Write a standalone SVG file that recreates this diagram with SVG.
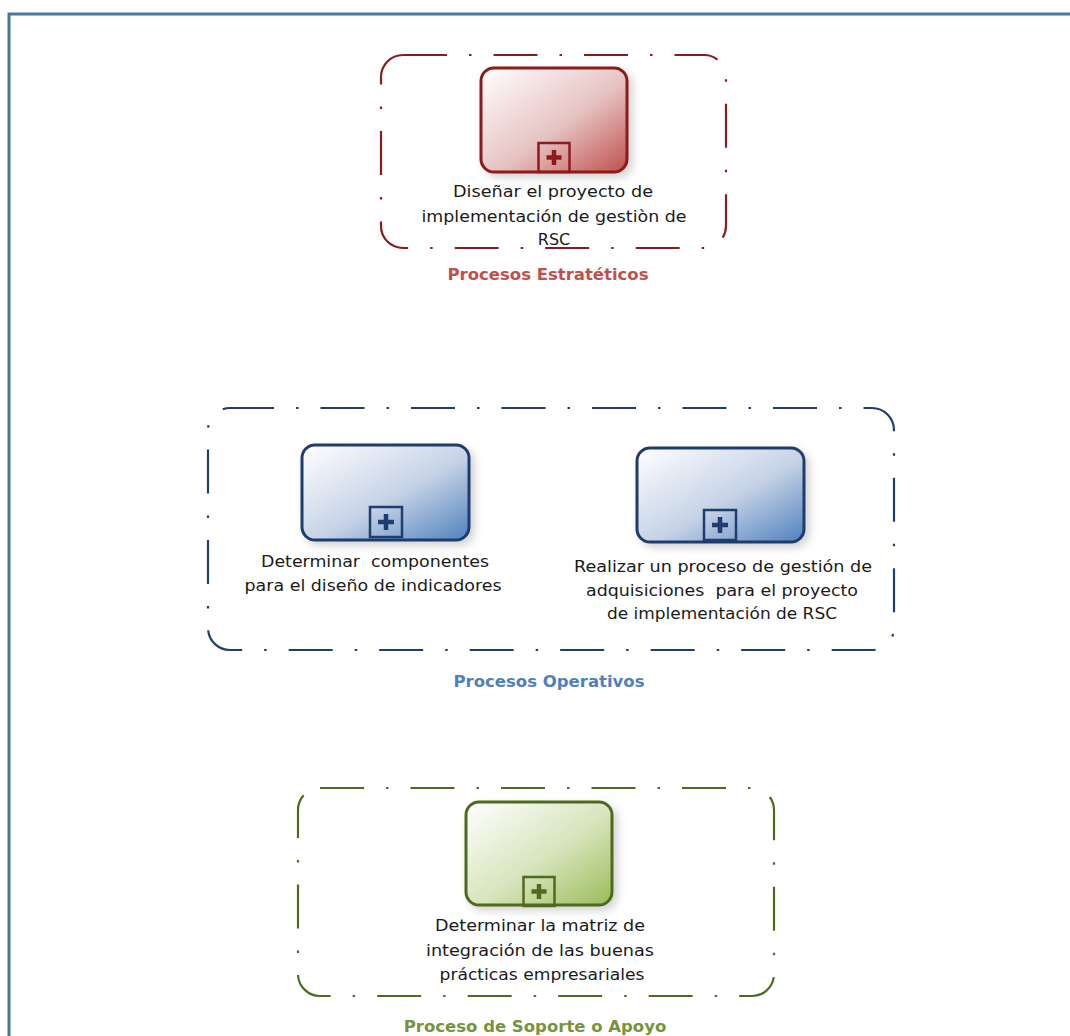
<svg xmlns="http://www.w3.org/2000/svg" width="1070" height="1036" viewBox="0 0 1070 1036">
  <style>
    .lane { fill: none; stroke-width: 2.2; stroke-dasharray: 44 22 2.5 22; stroke-linecap: butt; }
    .task { stroke-width: 3; }
    .mark { fill: none; stroke-width: 2.5; }
    .txt { font-family: "DejaVu Sans", "Liberation Sans", sans-serif; font-size: 16px; fill: #1a1a1a; text-anchor: middle; white-space: pre; }
    .lbl { font-family: "DejaVu Sans", "Liberation Sans", sans-serif; font-size: 16.5px; font-weight: bold; text-anchor: middle; }
  </style>
  <defs>
    <linearGradient id="gRed" x1="0" y1="0" x2="1" y2="1">
      <stop offset="0" stop-color="#ffffff"/>
      <stop offset="0.55" stop-color="#e6c3c2"/>
      <stop offset="1" stop-color="#c0504d"/>
    </linearGradient>
    <linearGradient id="gBlue" x1="0" y1="0" x2="1" y2="1">
      <stop offset="0" stop-color="#ffffff"/>
      <stop offset="0.55" stop-color="#c5d2e6"/>
      <stop offset="1" stop-color="#4f81bd"/>
    </linearGradient>
    <linearGradient id="gGreen" x1="0" y1="0" x2="1" y2="1">
      <stop offset="0" stop-color="#ffffff"/>
      <stop offset="0.55" stop-color="#d6e4bb"/>
      <stop offset="1" stop-color="#9bbb59"/>
    </linearGradient>
    <filter id="shadow" x="-10%" y="-10%" width="130%" height="130%">
      <feDropShadow dx="4" dy="4" stdDeviation="4" flood-color="#000" flood-opacity="0.18"/>
    </filter>
  </defs>

  <rect width="1070" height="1036" fill="#ffffff"/>
  <!-- page frame -->
  <path d="M9,1036 V14 H1070" fill="none" stroke="#4a76a0" stroke-width="3"/>

  <!-- strategic lane -->
  <g id="lane-estrategicos">
    <rect class="lane" x="381" y="55" width="345" height="193" rx="22" stroke="#8b1c1c"/>
    <text class="lbl" x="548" y="280" fill="#c0504d">Procesos Estratéticos</text>
  </g>
  <g id="task-disenar">
    <rect class="task" x="481" y="68" width="146" height="104" rx="13" fill="url(#gRed)" stroke="#8b1c1c" filter="url(#shadow)"/>
    <rect class="mark" x="538.5" y="143" width="31" height="29" stroke="#8b1c1c"/>
    <path d="M554,150 V165 M546.5,157.5 H561.5" stroke="#8b1c1c" stroke-width="4.5"/>
    <text class="txt" x="553" y="197" textLength="200" lengthAdjust="spacingAndGlyphs">Diseñar el proyecto de</text>
    <text class="txt" x="554" y="222" textLength="265" lengthAdjust="spacingAndGlyphs">implementación de gestiòn de</text>
    <text class="txt" x="554" y="245">RSC</text>
  </g>

  <!-- operative lane -->
  <g id="lane-operativos">
    <rect class="lane" x="208" y="408" width="686" height="242" rx="22" stroke="#1f3d6e"/>
    <text class="lbl" x="549" y="687" fill="#4f81bd">Procesos Operativos</text>
  </g>
  <g id="task-componentes">
    <rect class="task" x="302" y="445" width="167" height="95" rx="13" fill="url(#gBlue)" stroke="#1f3d6e" filter="url(#shadow)"/>
    <rect class="mark" x="370" y="507" width="32" height="30" stroke="#1f3d6e"/>
    <path d="M386,514 V530 M378,522 H394" stroke="#1f3d6e" stroke-width="4.5"/>
    <text class="txt" x="375" y="567" textLength="228" lengthAdjust="spacingAndGlyphs">Determinar  componentes</text>
    <text class="txt" x="373" y="591" textLength="257" lengthAdjust="spacingAndGlyphs">para el diseño de indicadores</text>
  </g>
  <g id="task-adquisiciones">
    <rect class="task" x="637" y="448" width="167" height="94" rx="13" fill="url(#gBlue)" stroke="#1f3d6e" filter="url(#shadow)"/>
    <rect class="mark" x="704" y="510" width="32" height="30" stroke="#1f3d6e"/>
    <path d="M720,517 V533 M712,525 H728" stroke="#1f3d6e" stroke-width="4.5"/>
    <text class="txt" x="723" y="572" textLength="298" lengthAdjust="spacingAndGlyphs">Realizar un proceso de gestión de</text>
    <text class="txt" x="722" y="596" textLength="272" lengthAdjust="spacingAndGlyphs">adquisiciones  para el proyecto</text>
    <text class="txt" x="722" y="619" textLength="230" lengthAdjust="spacingAndGlyphs">de implementación de RSC</text>
  </g>

  <!-- support lane -->
  <g id="lane-soporte">
    <rect class="lane" x="298" y="788" width="476" height="208" rx="22" stroke="#4f6b1f"/>
    <text class="lbl" x="535" y="1032" fill="#77933c">Proceso de Soporte o Apoyo</text>
  </g>
  <g id="task-matriz">
    <rect class="task" x="466" y="802" width="146" height="103" rx="13" fill="url(#gGreen)" stroke="#4f6b1f" filter="url(#shadow)"/>
    <rect class="mark" x="523.5" y="877" width="31" height="29" stroke="#4f6b1f"/>
    <path d="M539,884 V899 M531.5,891.5 H546.5" stroke="#4f6b1f" stroke-width="4.5"/>
    <text class="txt" x="540" y="931" textLength="210" lengthAdjust="spacingAndGlyphs">Determinar la matriz de</text>
    <text class="txt" x="540" y="956" textLength="228" lengthAdjust="spacingAndGlyphs">integración de las buenas</text>
    <text class="txt" x="542" y="980" textLength="205" lengthAdjust="spacingAndGlyphs">prácticas empresariales</text>
  </g>

  <!-- no sequence flows are drawn between these processes -->
  <g id="connectors"/>
</svg>
